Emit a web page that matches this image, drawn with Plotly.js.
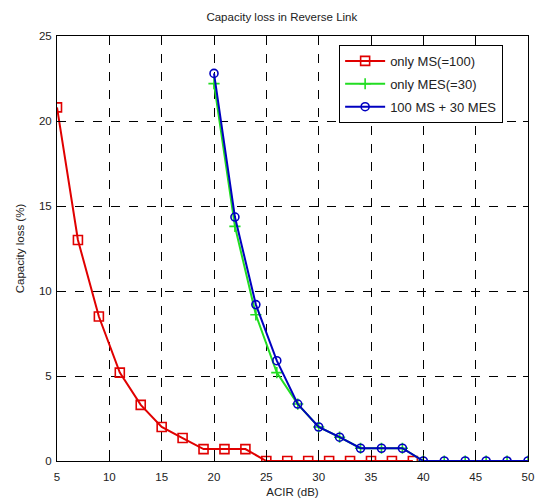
<!DOCTYPE html>
<html>
<head>
<meta charset="utf-8">
<script src="https://cdn.plot.ly/plotly-3.0.1.min.js"></script>
<style>html,body{margin:0;padding:0;background:#fff;}#chart{width:542px;height:503px;}</style>
</head>
<body>
<div id="chart"></div>
<script>
const msX = [5,7,9,11,13,15,17,19,21,23,25,27,29,31,33,35,37,39];
const msY = [20.8,13.0,8.5,5.2,3.3,2.0,1.35,0.7,0.7,0.7,0,0,0,0,0,0,0,0];
const mesX = [20,22,24,26,28,30,32,34,36,38,40,42,44,46,48,50];
const mesY = [22.2,13.8,8.6,5.2,3.35,2.0,1.4,0.75,0.75,0.75,0,0,0,0,0,0];
const bothX = [20,22,24,26,28,30,32,34,36,38,40,42,44,46,48,50];
const bothY = [22.8,14.35,9.2,5.9,3.35,2.0,1.4,0.75,0.75,0.75,0,0,0,0,0,0];
const xTicks = [5,10,15,20,25,30,35,40,45,50];
const yTicks = [0,5,10,15,20,25];
const names = ['only MS(=100)','only MES(=30)','100 MS + 30 MES'];

const font = {family:'Liberation Sans, Arial, sans-serif', size:11.5, color:'#222'};
const traces = [
  {x:msX, y:msY, name:names[0], legendgroup:'a', mode:'lines+markers', type:'scatter',
   line:{color:'#e00000', width:2}, marker:{symbol:'square-open', size:9, color:'#e00000', line:{width:1.6}}},
  {x:mesX, y:mesY, name:names[1], legendgroup:'b', mode:'lines+markers', type:'scatter',
   line:{color:'#22dd22', width:2}, marker:{symbol:'cross-thin-open', size:8, color:'#22dd22', line:{width:1.6, color:'#22dd22'}}},
  {x:bothX, y:bothY, name:names[2], legendgroup:'c', mode:'lines+markers', type:'scatter',
   line:{color:'#0000c0', width:2}, marker:{symbol:'circle-open', size:8, color:'#0000c0', line:{width:1.6}}}
];
const axisCommon = {showline:true, linecolor:'#000', linewidth:1, mirror:'ticks', ticks:'inside', ticklen:5, tickcolor:'#000',
  showgrid:true, gridcolor:'#000', griddash:'dash', gridwidth:1, zeroline:false, tickfont:font};
const layout = {
  width:542, height:503, paper_bgcolor:'#fff', plot_bgcolor:'#fff',
  margin:{l:57, r:14, t:36, b:42},
  title:{text:'Capacity loss in Reverse Link', font:{family:font.family, size:11.5, color:'#222'}, x:0.52, xanchor:'center', y:0.967, yanchor:'middle'},
  xaxis:Object.assign({}, axisCommon, {range:[5,50], tickvals:xTicks, ticktext:xTicks.map(String), ticklabelstandoff:5,
    title:{text:'ACIR (dB)', font:{family:font.family, size:11.5, color:'#222'}, standoff:6}}),
  yaxis:Object.assign({}, axisCommon, {range:[0,25], tickvals:yTicks, ticktext:yTicks.map(String), ticklabelstandoff:2,
    title:{text:'Capacity loss (%)', font:{family:font.family, size:11.5, color:'#222'}, standoff:11}}),
  showlegend:true,
  legend:{x:0.599, y:0.979, xanchor:'left', yanchor:'top', bgcolor:'#fff', bordercolor:'#000', borderwidth:1,
    font:{family:font.family, size:13, color:'#222'}, tracegroupgap:3, itemwidth:40}
};
Plotly.newPlot('chart', traces, layout, {displayModeBar:false, staticPlot:true});
</script>
</body>
</html>
